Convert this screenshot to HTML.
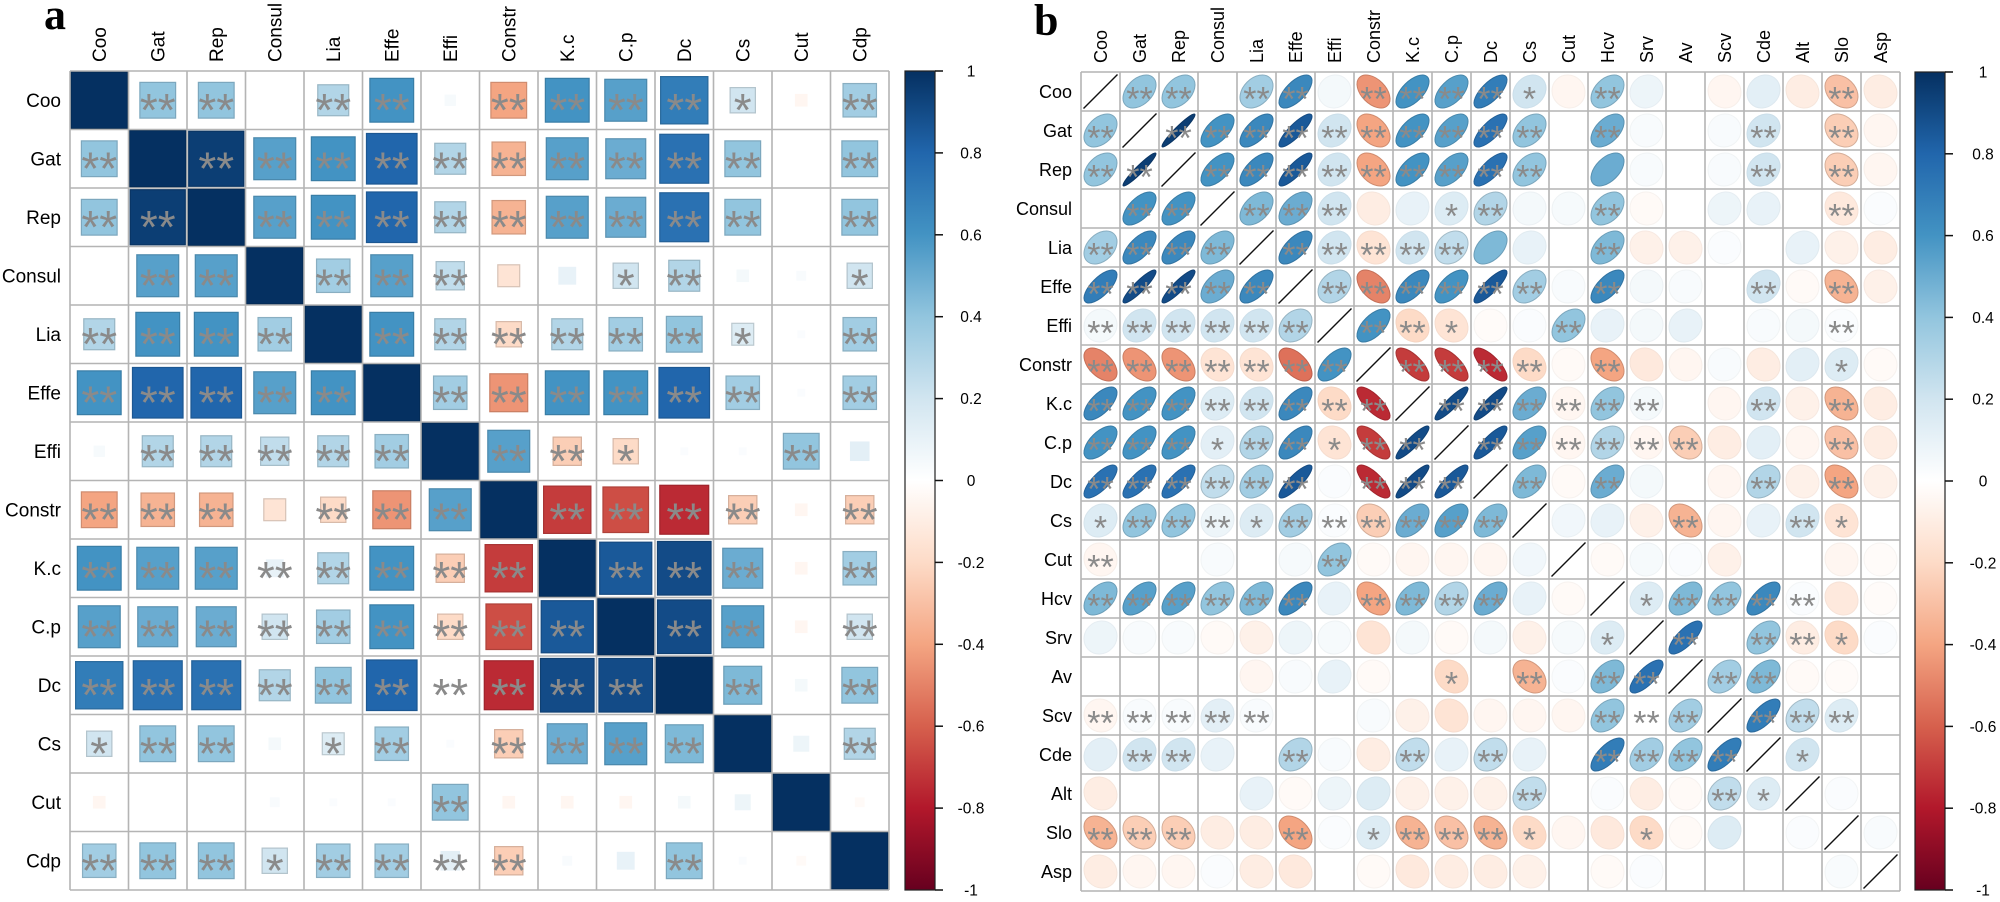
<!DOCTYPE html>
<html><head><meta charset="utf-8"><style>
html,body{margin:0;padding:0;background:#fff;}
svg{display:block;}
</style></head><body>
<svg id="s" width="2000" height="902" xmlns="http://www.w3.org/2000/svg" font-family="Liberation Sans, sans-serif">
<defs>
<linearGradient id="cb" x1="0" y1="0" x2="0" y2="1">
<stop offset="0" stop-color="#053061"/><stop offset="0.1" stop-color="#2166AC"/><stop offset="0.2" stop-color="#4393C3"/><stop offset="0.3" stop-color="#92C5DE"/><stop offset="0.4" stop-color="#D1E5F0"/><stop offset="0.5" stop-color="#FFFFFF"/><stop offset="0.6" stop-color="#FDDBC7"/><stop offset="0.7" stop-color="#F4A582"/><stop offset="0.8" stop-color="#D6604D"/><stop offset="0.9" stop-color="#B2182B"/><stop offset="1" stop-color="#67001F"/>
</linearGradient>
</defs>
<text x="44" y="29" font-family="Liberation Serif, serif" font-weight="bold" font-size="44">a</text>
<text x="1034" y="35" font-family="Liberation Serif, serif" font-weight="bold" font-size="44">b</text>
</svg>
<script>
var P=["#67001F","#B2182B","#D6604D","#F4A582","#FDDBC7","#FFFFFF","#D1E5F0","#92C5DE","#4393C3","#2166AC","#053061"];
function hx(h){return [parseInt(h.substr(1,2),16),parseInt(h.substr(3,2),16),parseInt(h.substr(5,2),16)];}
function col(r,dk){var t=(r+1)/2*10;if(t<0)t=0;if(t>10)t=10;var i=Math.min(9,Math.floor(t)),f=t-i;var a=hx(P[i]),b=hx(P[i+1]);var c=[0,1,2].map(function(k){var v=a[k]+(b[k]-a[k])*f;if(dk)v*=dk;return Math.round(v);});return "rgb("+c.join(",")+")";}
var svg=document.getElementById('s');var out="";
function grid(x0,y0,n,cs){var s="";for(var i=0;i<=n;i++){s+='<line x1="'+(x0+i*cs)+'" y1="'+y0+'" x2="'+(x0+i*cs)+'" y2="'+(y0+n*cs)+'" stroke="#b4b4b4" stroke-width="1.6"/>';s+='<line x1="'+x0+'" y1="'+(y0+i*cs)+'" x2="'+(x0+n*cs)+'" y2="'+(y0+i*cs)+'" stroke="#b4b4b4" stroke-width="1.6"/>';}return s;}
function labels(names,x0,y0,cs,fs){var s="";names.forEach(function(n,i){s+='<text x="'+(x0-9)+'" y="'+(y0+i*cs+cs/2+fs*0.36)+'" font-size="'+fs+'" text-anchor="end">'+n+'</text>';var cx=x0+i*cs+cs/2+fs*0.36;s+='<text transform="translate('+cx+','+(y0-9)+') rotate(-90)" font-size="'+fs+'">'+n+'</text>';});return s;}
function stars(cx,cy,k,fs){if(!k)return "";var t=k==2?"**":"*";return '<text x="'+cx+'" y="'+(cy+fs*0.56)+'" font-size="'+fs+'" fill="#8a8a8a" text-anchor="middle">'+t+'</text>';}
function cbar(x,y0,y1,lx){var s='<rect x="'+x+'" y="'+y0+'" width="30" height="'+(y1-y0)+'" fill="url(#cb)" stroke="#222" stroke-width="1.2"/>';for(var i=0;i<=10;i++){var v=1-i*0.2;var y=y0+(y1-y0)*i/10;s+='<line x1="'+(x+30)+'" y1="'+y+'" x2="'+(x+38)+'" y2="'+y+'" stroke="#111" stroke-width="1.5"/>';var lab=Math.abs(v)<1e-9?"0":(Math.round(v*10)/10).toString();s+='<text x="'+lx+'" y="'+(y+5.5)+'" font-size="15.5" text-anchor="middle">'+lab+'</text>';}return s;}
// Panel A
var AN=["Coo","Gat","Rep","Consul","Lia","Effe","Effi","Constr","K.c","C.p","Dc","Cs","Cut","Cdp"];
var AR=[
[1,.4,.4,0,.3,.6,.04,-.4,.6,.55,.7,.2,-.05,.35],
[.4,1,.95,.55,.6,.8,.3,-.35,.55,.5,.75,.4,0,.4],
[.4,.95,1,.55,.6,.8,.3,-.35,.55,.5,.75,.4,0,.4],
[0,.55,.55,1,.35,.55,.25,-.15,.1,.2,.3,.05,.03,.2],
[.3,.6,.6,.35,1,.6,.3,-.2,.3,.35,.4,.15,.02,.35],
[.6,.8,.8,.55,.6,1,.35,-.45,.6,.6,.8,.35,.02,.35],
[.04,.3,.3,.25,.3,.35,1,.55,-.25,-.2,.02,.02,.4,.12],
[-.4,-.35,-.35,-.15,-.2,-.45,.55,1,-.7,-.65,-.75,-.25,-.05,-.25],
[.6,.55,.55,.1,.3,.6,-.25,-.7,1,.85,.9,.5,-.05,.35],
[.55,.5,.5,.2,.35,.6,-.2,-.65,.85,1,.9,.55,-.05,.2],
[.7,.75,.75,.3,.4,.8,.02,-.75,.9,.9,1,.45,.05,.4],
[.2,.4,.4,.05,.15,.35,.02,-.25,.5,.55,.45,1,.08,.3],
[-.05,0,0,.03,.02,.02,.4,-.05,-.05,-.05,.05,.08,1,-.03],
[.35,.4,.4,.2,.35,.35,.12,-.25,.03,.1,.4,.02,-.03,1]];
var AS=["02202202222102","20222222222202","22022222222202","02202220012001","22220222222102","22222022222202","02222202210020","22202220222202","22222222022202","22222222202202","22222222220202","12201202222002","00000020000000","22212222002000"];
var ax=70,ay=71,ac=58.5;
for(var i=0;i<14;i++)for(var j=0;j<14;j++){var r=AR[i][j];var cx=ax+j*ac+ac/2,cy=ay+i*ac+ac/2;var sd=Math.sqrt(Math.abs(r))*(ac-2);if(sd>0.5){var st=Math.abs(r)>0.12?' stroke="'+col(r,0.85)+'" stroke-width="1.2"':'';out+='<rect x="'+(cx-sd/2)+'" y="'+(cy-sd/2)+'" width="'+sd+'" height="'+sd+'" fill="'+col(r)+'"'+st+'/>';}out+=stars(cx,cy,+AS[i][j],46);}
out+=grid(ax,ay,14,ac);out+=labels(AN,ax,ay,ac,19);out+=cbar(905,71,890,971);
// Panel B
var BN=["Coo","Gat","Rep","Consul","Lia","Effe","Effi","Constr","K.c","C.p","Dc","Cs","Cut","Hcv","Srv","Av","Scv","Cde","Alt","Slo","Asp"];
var BR=[
[1,.4,.4,0,.35,.65,.05,-.45,.6,.55,.7,.2,-.05,.4,.08,0,-.05,.12,-.1,-.3,-.1],
[.4,1,.95,.6,.65,.85,.2,-.4,.6,.55,.75,.4,0,.5,.03,0,.03,.2,0,-.25,-.05],
[.4,.95,1,.6,.65,.85,.2,-.4,.6,.55,.75,.4,0,.5,.03,0,.03,.2,0,-.25,-.05],
[0,.6,.6,1,.45,.5,.2,-.1,.1,.15,.3,.05,.04,.4,-.03,0,.08,.1,0,-.12,.02],
[.35,.65,.65,.45,1,.65,.2,-.15,.2,.25,.45,.1,0,.45,-.08,-.08,.02,0,.1,-.08,-.1],
[.7,.9,.9,.5,.65,1,.3,-.5,.65,.6,.85,.35,.03,.65,.05,.03,0,.2,-.03,-.35,-.08],
[.05,.2,.2,.2,.2,.3,1,.6,-.2,-.15,-.02,.02,.4,.1,.05,.1,0,.03,.05,.02,0],
[-.5,-.45,-.45,-.15,-.15,-.55,.6,1,-.7,-.7,-.75,-.2,-.03,-.4,-.12,-.05,.03,-.1,.12,.15,-.03],
[.65,.6,.6,.15,.2,.65,-.2,-.75,1,.9,.9,.5,-.05,.4,.05,0,-.05,.2,-.08,-.35,-.1],
[.6,.6,.6,.12,.3,.65,-.15,-.7,.9,1,.85,.55,-.05,.3,-.05,-.25,-.1,.12,-.05,-.3,-.1],
[.75,.75,.75,.25,.35,.85,.02,-.75,.9,.85,1,.45,-.03,.5,.05,0,-.05,.3,-.08,-.4,-.08],
[.15,.4,.4,.08,.15,.35,.02,-.25,.5,.55,.45,1,.06,.1,-.08,-.35,-.05,.1,.2,-.15,0],
[-.05,0,0,.03,0,.04,.4,-.03,-.05,-.05,-.05,.06,1,-.03,.04,.02,-.08,0,0,-.05,-.02],
[.45,.55,.55,.4,.45,.65,.1,-.4,.45,.3,.5,.1,-.03,1,.15,.45,.4,.65,.02,-.12,-.02],
[.08,.03,.03,-.03,-.08,.08,.04,-.15,.05,-.03,.05,-.08,.04,.15,1,.75,0,.4,-.1,-.2,.02],
[0,0,0,0,-.05,.03,.1,-.03,0,-.2,0,-.35,.02,.45,.75,1,.35,.45,-.03,-.02,0],
[-.05,.03,.03,.12,.03,0,0,.03,-.08,-.15,-.05,-.05,-.05,.4,0,.35,1,.7,.25,.15,0],
[.12,.2,.2,.1,0,.3,.03,-.1,.25,.1,.25,.1,0,.7,.35,.4,.7,1,.2,0,0],
[-.1,0,0,0,.1,-.03,.08,.15,-.08,-.08,-.08,.25,0,.02,-.1,-.03,.25,.15,1,.02,0],
[-.35,-.25,-.25,-.1,-.1,-.4,.02,.15,-.35,-.3,-.35,-.2,-.05,-.12,-.2,-.03,.15,0,.02,1,.03],
[-.1,-.05,-.05,.02,-.1,-.12,0,-.03,-.12,-.1,-.1,-.08,0,-.03,.02,0,0,0,0,.03,1]];
var BS=[
"022022022221020000020",
"202222222222020002020",
"220222222222000002020",
"022022200120020000020",
"222202222200020000000",
"222220222222020002020",
"222222022100200000020",
"222222202222020000010",
"222222220222222002020",
"222122122022222200020",
"222222022202020002020",
"122212222220000200210",
"200000200000000000000",
"222222022220001222200",
"000000000000010202210",
"000000000102022022000",
"222220000000022202220",
"022002002020022220100",
"000000000002000021000",
"222002012221001000000",
"000000000000000000000"];
var bx=1081,by=72,bc=39,R=16.5;
for(var i=0;i<21;i++)for(var j=0;j<21;j++){var r=BR[i][j];var cx=bx+j*bc+bc/2,cy=by+i*bc+bc/2;
if(i==j){out+='<line x1="'+(cx-17)+'" y1="'+(cy+17)+'" x2="'+(cx+17)+'" y2="'+(cy-17)+'" stroke="#111" stroke-width="1.4"/>';continue;}
if(Math.abs(r)>=0.015){var a=R*Math.sqrt(1+r),b=R*Math.sqrt(1-r);out+='<ellipse cx="'+cx+'" cy="'+cy+'" rx="'+a.toFixed(2)+'" ry="'+b.toFixed(2)+'" transform="rotate(-45 '+cx+' '+cy+')" fill="'+col(r)+'" stroke="'+col(r,Math.abs(r)>0.2?0.85:0.97)+'" stroke-width="1"/>';}
out+=stars(cx,cy,+BS[i][j],34);}
out+=grid(bx,by,21,bc);out+=labels(BN,bx,by,bc,18);out+=cbar(1915,72,890,1983);
svg.insertAdjacentHTML('beforeend',out);
</script>
</body></html>
